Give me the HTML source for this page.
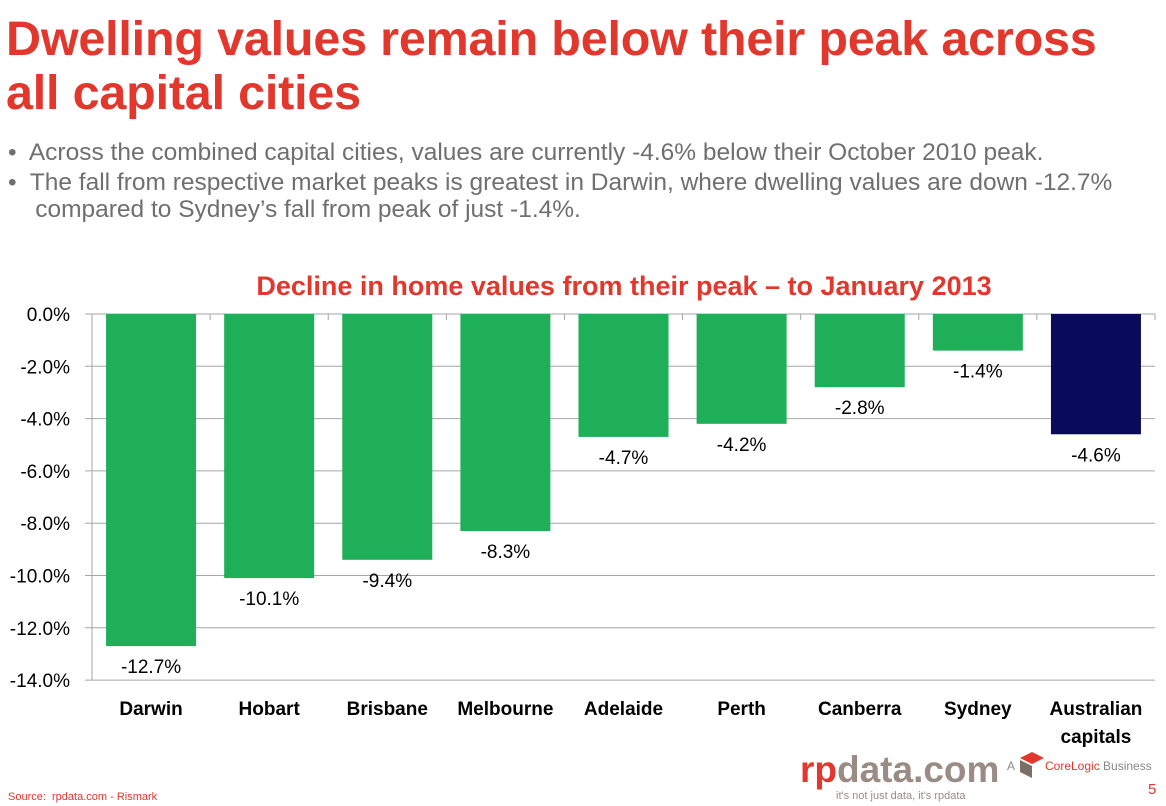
<!DOCTYPE html>
<html><head><meta charset="utf-8">
<style>
body{margin:0;width:1166px;height:806px;background:#fff;overflow:hidden;font-family:"Liberation Sans",Arial,sans-serif;position:relative}
.t{position:absolute;left:6px;top:12px;color:#e2372c;font-weight:bold;font-size:48.5px;line-height:54px;margin:0;letter-spacing:-0.2px}
.b{position:absolute;left:8px;color:#6f6f6f;font-size:24.5px;line-height:27px;white-space:nowrap}
</style></head><body>
<h1 class="t">Dwelling values remain below their peak across<br>all capital cities</h1>
<div class="b" style="top:139px">•&nbsp; Across the combined capital cities, values are currently -4.6% below their October 2010 peak.</div>
<div class="b" style="top:169px">•&nbsp; The fall from respective market peaks is greatest in Darwin, where dwelling values are down -12.7%<br>&nbsp;&nbsp;&nbsp; compared to Sydney’s fall from peak of just -1.4%.</div>
<svg id="c" width="1166" height="806" style="position:absolute;left:0;top:0">
<text x="624" y="295" text-anchor="middle" fill="#e2372c" font-weight="bold" font-size="27">Decline in home values from their peak – to January 2013</text>
<g id="g"></g>
<text x="8" y="800" fill="#e2372c" font-size="11">Source:&nbsp; rpdata.com - Rismark</text>
<text x="800" y="782" fill="#e2372c" font-size="37" font-weight="bold">rp<tspan fill="#9a8c84">data.com</tspan></text>
<text x="836" y="799" fill="#9a8c84" font-size="11">it's not just data, it's rpdata</text>
<text x="1007" y="770" fill="#888" font-size="12">A</text>
<polygon points="1032,752 1044,758 1032,764 1020,758" fill="#e2372c"/>
<polygon points="1020,760 1032,766 1032,778 1020,772" fill="#7a6e66"/>
<text x="1045" y="770" fill="#e2372c" font-size="12">CoreLogic<tspan fill="#888"> Business</tspan></text>
<text x="1148" y="794" fill="#e2372c" font-size="15">5</text>
</svg>
<script>
const categories=["Darwin","Hobart","Brisbane","Melbourne","Adelaide","Perth","Canberra","Sydney","Australian|capitals"];
const values=[-12.7,-10.1,-9.4,-8.3,-4.7,-4.2,-2.8,-1.4,-4.6];
const ticks=[0,-2,-4,-6,-8,-10,-12,-14];
const NS="http://www.w3.org/2000/svg",g=document.getElementById('g');
const x0=92,x1=1155,yTop=314,k=26.15;
const y=v=>yTop-v*k, bw=(x1-x0)/categories.length;
function mk(t,a,txt){const e=document.createElementNS(NS,t);for(const n in a)e.setAttribute(n,a[n]);if(txt!=null)e.textContent=txt;g.appendChild(e);return e;}
ticks.forEach(t=>{
 const l=mk('line',{x1:85,x2:x1,y1:y(t),y2:y(t),stroke:'#a6a6a6','stroke-width':1});
 
 
 const tx=mk('text',{x:70,y:y(t)+7,'text-anchor':'end','font-size':19,fill:'#000'},t.toFixed(1)+'%');
 
 
});
const ax=mk('line',{x1:x0,x2:x0,y1:yTop,y2:y(-14),stroke:'#a6a6a6'});


categories.forEach((c,i)=>{
 const cx=x0+bw*(i+.5),v=values[i];
 const tk=mk('line',{x1:x0+bw*(i+1),x2:x0+bw*(i+1),y1:yTop,y2:yTop+6,stroke:'#a6a6a6'});
 
 
 const r=mk('rect',{x:cx-45,y:yTop,width:90,height:y(v)-yTop,fill:i==8?'#0a0a5a':'#1eaf58'});
 
 
 const lb=mk('text',{x:cx,y:y(v)+27,'text-anchor':'middle','font-size':19,fill:'#000'},v.toFixed(1)+'%');
 
 
 c.split('|').forEach((p,j)=>{
  const ct=mk('text',{x:cx,y:715+j*28,'text-anchor':'middle','font-size':19,'font-weight':'bold',fill:'#000'},p);
  
  
 });
});
</script>
</body></html>
